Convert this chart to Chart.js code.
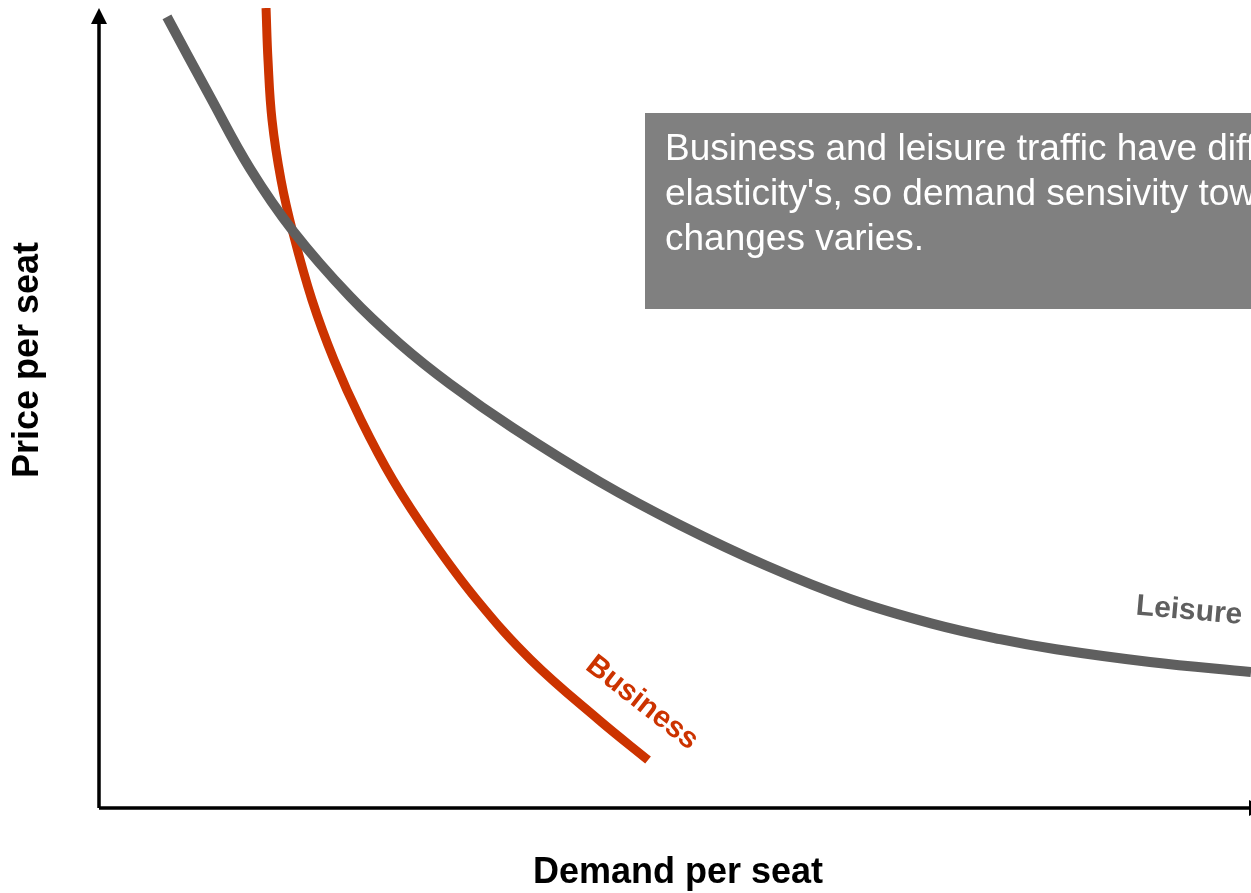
<!DOCTYPE html>
<html>
<head>
<meta charset="utf-8">
<script src="https://cdn.jsdelivr.net/npm/chart.js@4.4.0/dist/chart.umd.min.js"></script>
<style>
  body { margin: 0; background: #fff; }
  #wrap { width: 1251px; height: 893px; position: relative; }
</style>
</head>
<body>
<div id="wrap"><canvas id="myChart"></canvas></div>
<script>
// Datos (unidades arbitrarias 0-100)
const leisureX = [5.9, 9.64, 13.11, 16.84, 21.79, 26.13, 30.47, 35.94, 43.49, 50.43, 57.9, 65.19, 72.31, 78.21, 83.07, 91.23, 100]
const leisureY = [98.88, 88.91, 79.91, 72.13, 63.93, 58, 53, 47.5, 40.75, 35.38, 30.31, 26.13, 23.05, 21.1, 19.84, 18.25, 17]
const businessX = [14.5, 14.67, 15.02, 15.8, 16.84, 18.49, 20.4, 22.74, 25.52, 28.91, 32.81, 37.5, 43.4, 47.66]
const businessY = [100, 93.5, 86, 78.5, 71.88, 63.5, 56, 48.5, 41, 33.5, 26, 18.5, 11, 6]
const xTitle = "Demand per seat"
const yTitle = "Price per seat"
const noteLines = ["Business and leisure traffic have different price", "elasticity's, so demand sensivity towards price", "changes varies."]

const red = "#cc3300"
const gray = "#5f5f5f"
const boldFont = size => "bold " + size + "px 'Liberation Sans', Arial, sans-serif"

const toPoints = (xs, ys) => xs.map((x, i) => ({x: x, y: ys[i]}))

//Texto girado alrededor de su centro
const turnedText = (ctx, text, x, y, angle) => {
  ctx.save()
  ctx.translate(x, y)
  ctx.rotate(angle * Math.PI / 180)
  ctx.fillText(text, 0, 0)
  ctx.restore()
}

//Plugin para ejes con flechas, titulos, etiquetas y el cuadro de texto
const extras = {
  id: "extras",
  beforeDatasetsDraw(chart) {
    const {ctx} = chart
    ctx.save()
    ctx.fillStyle = "#808080"
    ctx.fillRect(645, 113, 700, 196)
    ctx.fillStyle = "#fff"
    ctx.font = "37px 'Liberation Sans', Arial, sans-serif"
    ctx.textBaseline = "alphabetic"
    noteLines.forEach((t, i) => ctx.fillText(t, 665, 160 + i * 45))
    ctx.restore()
  },
  afterDatasetsDraw(chart) {
    const {ctx, chartArea} = chart
    const {left, right, top, bottom} = chartArea
    ctx.save()
    ctx.strokeStyle = "#000"
    ctx.fillStyle = "#000"
    ctx.lineWidth = 3.5
    ctx.beginPath()
    ctx.moveTo(left, bottom)
    ctx.lineTo(left, top + 12)
    ctx.moveTo(left, bottom)
    ctx.lineTo(right, bottom)
    ctx.stroke()
    //flecha vertical
    ctx.beginPath()
    ctx.moveTo(left, top)
    ctx.lineTo(left - 8, top + 16)
    ctx.lineTo(left + 8, top + 16)
    ctx.closePath()
    ctx.fill()
    //flecha horizontal (queda cortada en el borde)
    ctx.beginPath()
    ctx.moveTo(right + 14, bottom)
    ctx.lineTo(right - 2, bottom - 8)
    ctx.lineTo(right - 2, bottom + 8)
    ctx.closePath()
    ctx.fill()

    ctx.font = boldFont(36)
    ctx.textAlign = "center"
    ctx.textBaseline = "middle"
    turnedText(ctx, xTitle, 678, 873, 0)
    turnedText(ctx, yTitle, 28, 360, -90)

    ctx.font = boldFont(30)
    ctx.fillStyle = red
    turnedText(ctx, "Business", 642, 703, 38)

    ctx.fillStyle = gray
    turnedText(ctx, "Leisure", 1189, 611, 5)
    ctx.restore()
  }
}

const ctx = document.getElementById("myChart").getContext("2d")
const myChart = new Chart(ctx, {
  type: "scatter",
  data: {
    datasets: [
      {
        label: "Leisure",
        data: toPoints(leisureX, leisureY),
        showLine: true,
        borderColor: gray,
        borderWidth: 10,
        pointRadius: 0,
        tension: 0.4,
        borderCapStyle: "butt"
      },
      {
        label: "Business",
        data: toPoints(businessX, businessY),
        showLine: true,
        borderColor: red,
        borderWidth: 9,
        pointRadius: 0,
        tension: 0.4,
        borderCapStyle: "butt"
      }
    ]
  },
  options: {
    responsive: true,
    maintainAspectRatio: false,
    animation: false,
    layout: { padding: { left: 99, right: 0, top: 8, bottom: 85 } },
    plugins: { legend: { display: false }, tooltip: { enabled: false } },
    scales: {
      x: { type: "linear", min: 0, max: 100, display: false },
      y: { type: "linear", min: 0, max: 100, display: false }
    }
  },
  plugins: [extras]
})
</script>
</body>
</html>
